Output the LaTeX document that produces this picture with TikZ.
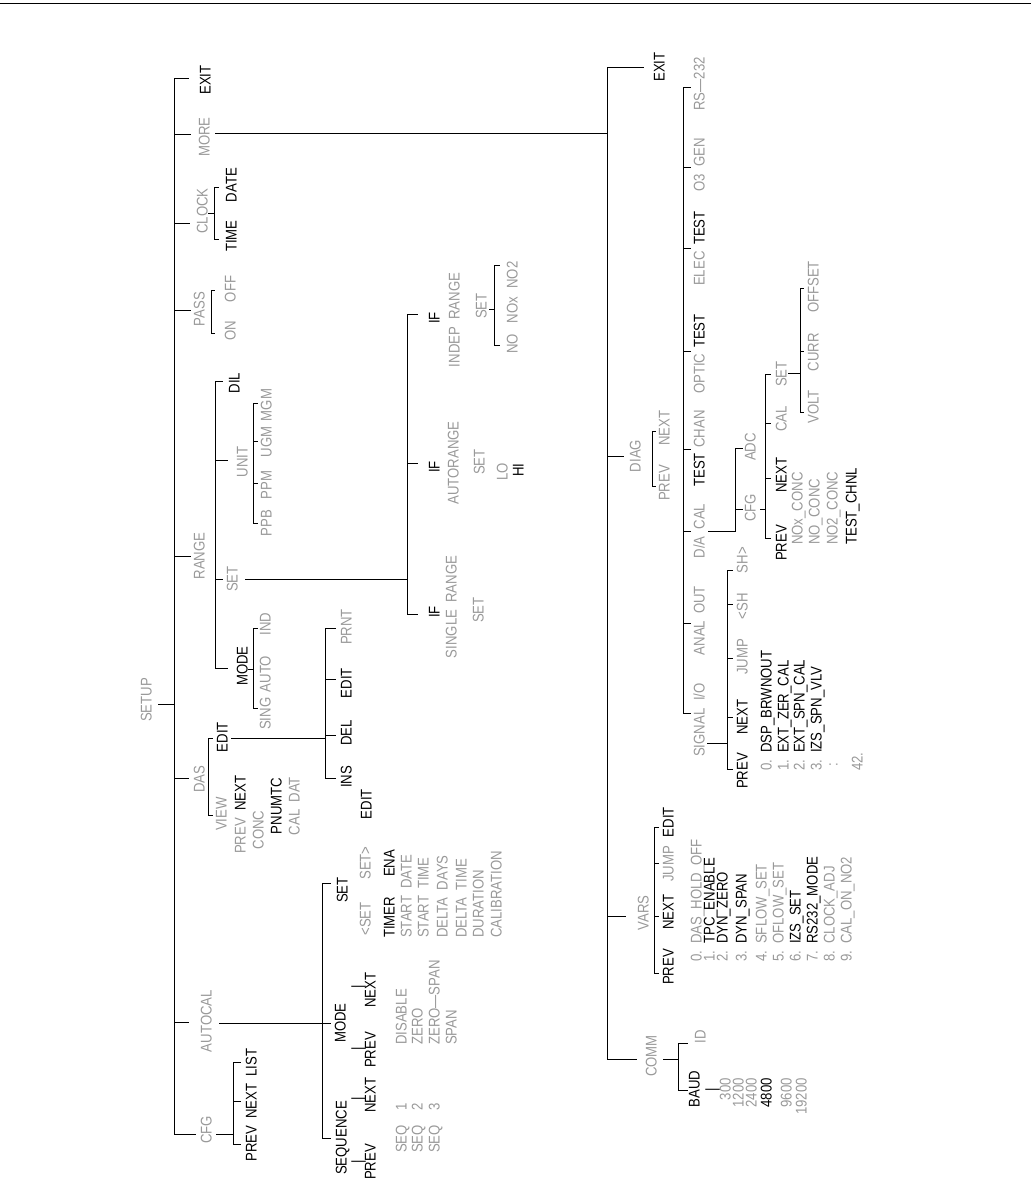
\documentclass[tikz,border=0pt]{standalone}
\usepackage{fontspec}
\setmainfont{Liberation Sans}[FakeStretch=0.85]
\definecolor{gr}{gray}{0.6}
\newcommand\lblfont{\fontsize{15.5}{15.5}\selectfont\spaceskip=7pt\relax}
\begin{document}
\begin{tikzpicture}[x=1pt,y=-1pt,
  lbl/.style={rotate=90,inner sep=0pt,font=\lblfont,text height=11pt,text depth=0pt},
  lb/.style={lbl,text=black},
  lg/.style={lbl,text=gr},
  ln/.style={line width=1pt,line cap=rect}]
\useasboundingbox (0,0) rectangle (1031,1200);
\draw[line width=0.8pt] (0,3) coordinate (hl) -- (1031,3) coordinate (hr);

% ================= SETUP tree =================
\node[lg] (setup) at (146,700) {SETUP};
\coordinate (stT) at (174,78); \coordinate (stB) at (174,1134);
\draw[ln] (158,704) -- (174,704);
\draw[ln] (stT) -- (stB);
\draw[ln] (stT) -- ++(14,0);
\draw[ln] (174,134) -- ++(16,0);
\draw[ln] (174,223) -- ++(15,0);
\draw[ln] (174,310) -- ++(16,0);
\draw[ln] (174,556) -- ++(16,0);
\draw[ln] (174,778) -- ++(14,0);
\draw[ln] (174,1022) -- ++(14,0);
\draw[ln] (stB) -- ++(21,0);

\node[lb] (exit1) at (205,80) {EXIT};
\node[lg] (more) at (204,137) {MORE};
\node[lg] (clock) at (202,211) {CLOCK};
\node[lb] (time) at (231,236) {TIME};
\node[lb] (date) at (231,185) {DATE};
\node[lg] (pass) at (199,309) {PASS};
\node[lg] (on) at (230,331) {ON};
\node[lg] (off) at (230,289) {OFF};
\node[lg] (range) at (199,556) {RANGE};
\node[lb] (dil) at (234,383) {DIL};
\node[lg] (unit) at (242,462) {UNIT};
\node[lg] (ppb) at (266,523) {PPB};
\node[lg] (ppm) at (266,485) {PPM};
\node[lg] (ugm) at (266,442) {UGM};
\node[lg] (mgm) at (266,405) {MGM};
\node[lg] (rset) at (232,579) {SET};
\node[lb] (rmode) at (242,666) {MODE};
\node[lg,anchor=west] (sing) at (265,730) {SING};
\node[lg] (auto) at (265,674) {AUTO};
\node[lg] (ind) at (265,624) {IND};

% MORE -> DIAG trunk
\coordinate (dgT) at (607,67); \coordinate (dgB) at (607,1059);
\coordinate (moreR) at (607,133);
\draw[ln] (215,133) -- (moreR);

% CLOCK bracket
\draw[ln] (208,213) -- (214,213);
\draw[ln] (218,187) -- (214,187) -- (214,239) -- (218,239);
% PASS bracket
\draw[ln] (214,290) -- (211,290) -- (211,333) -- (214,333);
% RANGE bracket
\draw[ln] (222,381) -- (215,381) -- (215,668) -- (227,668);
\draw[ln] (215,460) -- (227,460);
\draw[ln] (215,579) -- (222,579);
% UNIT bracket
\draw[ln] (257,403) -- (253,403) -- (253,523) -- (257,523);
\draw[ln] (253,441) -- (257,441);
\draw[ln] (253,483) -- (257,483);
% MODE bracket
\draw[ln] (257,628) -- (253,628) -- (253,708) -- (257,708);
\draw[ln] (248,669) -- (253,669);
% SET -> IF
\coordinate (ifJ) at (407,579);
\draw[ln] (245,579) -- (ifJ);
\draw[ln] (417,314) -- (407,314) -- (407,614) -- (417,614);
\draw[ln] (407,463) -- (417,463);

\node[lb] (if1) at (434,318) {IF};
\node[lb] (if2) at (434,467) {IF};
\node[lb] (if3) at (434,612) {IF};
\node[lg] (indep) at (454,320) {INDEP RANGE};
\node[lg] (iset) at (481,306) {SET};
\node[lg] (no) at (512,344) {NO};
\node[lg] (nox) at (512,310) {NOx};
\node[lg] (no2) at (512,275) {NO2};
\draw[ln] (499,265) -- (494,265) -- (494,345) -- (499,345);
\draw[ln] (489,309) -- (494,309);
\node[lg] (autor) at (453,463) {AUTORANGE};
\node[lg] (aset) at (479,462) {SET};
\node[lg] (lo) at (502,472) {LO};
\node[lb] (hi) at (518,470) {HI};
\node[lg] (single) at (451,607) {SINGLE RANGE};
\node[lg] (sset) at (478,610) {SET};

% DAS
\node[lg] (das) at (199,779) {DAS};
\node[lg] (view) at (221,814) {VIEW};
\node[lb] (dedit) at (222,737) {EDIT};
\draw[ln] (212,738) -- (208,738) -- (208,815) -- (212,815);
\node[lg] (dprev) at (240,836) {PREV};
\node[lb] (dnext) at (240,793) {NEXT};
\node[lg] (conc) at (258,830) {CONC};
\node[lb] (pnumtc) at (276,806) {PNUMTC};
\node[lg] (caldat) at (294,806) {CAL DAT};
\draw[ln] (231,738) -- (325,738);
\draw[ln] (335,628) -- (325,628) -- (325,778) -- (335,778);
\draw[ln] (325,679) -- (335,679);
\draw[ln] (325,735) -- (335,735);
\node[lb] (ins) at (346,777) {INS};
\node[lb] (del) at (346,733) {DEL};
\node[lb] (edit2) at (346,683) {EDIT};
\node[lg] (prnt) at (346,627) {PRNT};
\node[lb] (edit3) at (366,804) {EDIT};

% CFG / AUTOCAL
\node[lg] (cfg) at (206,1130) {CFG};
\node[lg] (autocal) at (206,1021) {AUTOCAL};
\node[lb] (pnl) at (251,1105) {PREV NEXT LIST};
\draw[ln] (216,1134) -- (233,1134);
\draw[ln] (240,1062) -- (233,1062) -- (233,1144) -- (240,1144);
\draw[ln] (233,1101) -- (240,1101);
\draw[ln] (219,1023) -- (330,1023);
\draw[ln] (330,883) -- (322,883) -- (322,1138) -- (330,1138);
\node[lb] (seq) at (341,1138) {SEQUENCE};
\node[lb] (amode) at (340,1023) {MODE};
\node[lb] (aset2) at (342,890) {SET};
\node[lb] (bar1) at (357,1162) {|};
\node[lb] (bar2) at (357,1099) {|};
\node[lb] (bar3) at (357,1049) {|};
\node[lb] (bar4) at (357,987) {|};
\node[lb] (sprev) at (370,1162) {PREV};
\node[lb] (snext) at (370,1095) {NEXT};
\node[lb] (mprev) at (370,1050) {PREV};
\node[lb] (mnext) at (370,990) {NEXT};
\node[lg] (lset) at (365,919) {<SET};
\node[lg] (rset2) at (365,863) {SET>};
\node[lb,anchor=west] (t1) at (389,938) {TIMER\hspace{20pt}ENA};
\node[lg,anchor=west] (t2) at (406,938) {START DATE};
\node[lg,anchor=west] (t3) at (423,938) {START TIME};
\node[lg,anchor=west] (t4) at (442,938) {DELTA DAYS};
\node[lg,anchor=west] (t5) at (461,938) {DELTA TIME};
\node[lg,anchor=west] (t6) at (478,938) {DURATION};
\node[lg,anchor=west] (t7) at (496,938) {CALIBRATION};
\node[lg,anchor=west] (m1) at (401,1045) {DISABLE};
\node[lg,anchor=west] (m2) at (417,1045) {ZERO};
\node[lg,anchor=west] (m3) at (434,1045) {ZERO---SPAN};
\node[lg,anchor=west] (m4) at (451,1045) {SPAN};
\node[lg,anchor=west] (q1) at (401,1153) {SEQ\ \ 1};
\node[lg,anchor=west] (q2) at (417,1153) {SEQ\ \ 2};
\node[lg,anchor=west] (q3) at (434,1153) {SEQ\ \ 3};

% ================= DIAG side =================
\draw[ln] (dgT) -- (dgB);
\draw[ln] (dgT) -- ++(36,0);
\draw[ln] (607,456) -- ++(16,0);
\draw[ln] (607,916) -- ++(18,0);
\draw[ln] (dgB) -- ++(29,0);
\node[lb] (exit2) at (659,67) {EXIT};
\node[lg] (diag) at (635,456) {DIAG};
\node[lg] (gprev) at (664,483) {PREV};
\node[lg] (gnext) at (664,428) {NEXT};
\draw[ln] (655,431) -- (652,431) -- (652,486) -- (655,486);

\draw[ln] (690,87) -- (683,87) -- (683,713) -- (690,713);
\foreach \yy in {167,248,351,449,531,623} \draw[ln] (683,\yy) -- (690,\yy);
\node[lg] (rs) at (699,84) {RS---232};
\node[lg] (o3) at (699,165) {O3 GEN};
\node[lg,anchor=west] (elec) at (699,286) {ELEC};
\node[lb,anchor=east] (etest) at (699,211) {TEST};
\node[lg,anchor=west] (optic) at (699,394) {OPTIC};
\node[lb,anchor=east] (otest) at (699,314) {TEST};
\node[lb,anchor=west] (ttest) at (699,487) {TEST};
\node[lg,anchor=east] (chan) at (699,410) {CHAN};
\node[lg] (dacal) at (699,531) {D/A CAL};
\node[lg] (anal) at (699,638) {ANAL};
\node[lg] (out) at (699,600) {OUT};
\node[lg,anchor=west] (signal) at (699,757) {SIGNAL};
\node[lg,anchor=east] (io) at (699,683) {I/O};

\draw[ln] (708,531) -- (735,531) -- (735,448) -- (742,448);
\draw[ln] (735,509) -- (742,509);
\node[lg] (dcfg) at (750,508) {CFG};
\node[lg] (adc) at (750,447) {ADC};
\draw[ln] (760,509) -- (765,509);
\draw[ln] (770,374) -- (765,374) -- (765,538) -- (770,538);
\draw[ln] (765,423) -- (770,423);
\draw[ln] (765,478) -- (770,478);
\node[lb] (cprev) at (781,543) {PREV};
\node[lb] (cnext) at (781,475) {NEXT};
\node[lg] (ccal) at (781,419) {CAL};
\node[lg] (cset) at (781,374) {SET};
\draw[ln] (788,373) -- (800,373);
\draw[ln] (803,288) -- (800,288) -- (800,412) -- (803,412);
\draw[ln] (800,351) -- (803,351);
\node[lg] (volt) at (813,407) {VOLT};
\node[lg] (curr) at (813,352) {CURR};
\node[lg] (offset) at (813,287) {OFFSET};
\node[lg,anchor=west] (c1) at (797,545) {NOx\_CONC};
\node[lg,anchor=west] (c2) at (814,545) {NO\_CONC};
\node[lg,anchor=west] (c3) at (832,545) {NO2\_CONC};
\node[lb,anchor=west] (c4) at (851,545) {TEST\_CHNL};

\draw[ln] (707,743) -- (727,743);
\draw[ln] (732,570) -- (727,570) -- (727,769) -- (732,769);
\foreach \yy in {604,658,717} \draw[ln] (727,\yy) -- (732,\yy);
\node[lb] (iprev) at (742,771) {PREV};
\node[lb] (inext) at (742,717) {NEXT};
\node[lg] (ijump) at (742,657) {JUMP};
\node[lg] (ish1) at (742,606) {<SH};
\node[lg] (ish2) at (742,560) {SH>};
\node[lbl,anchor=west] (s0) at (766,771) {\textcolor{gr}{0.}\ DSP\_BRWNOUT};
\node[lbl,anchor=west] (s1) at (783,771) {\textcolor{gr}{1.}\ EXT\_ZER\_CAL};
\node[lbl,anchor=west] (s2) at (799,771) {\textcolor{gr}{2.}\ EXT\_SPN\_CAL};
\node[lbl,anchor=west] (s3) at (816,771) {\textcolor{gr}{3.}\ IZS\_SPN\_VLV};
\node[lg] (sdots) at (832,765) {:};
\node[lg,anchor=west] (s42) at (857,771) {42.};

% VARS
\node[lg] (vars) at (643,913) {VARS};
\draw[ln] (658,827) -- (654,827) -- (654,973) -- (658,973);
\draw[ln] (654,863) -- (658,863);
\draw[ln] (654,916) -- (658,916);
\node[lb] (vprev) at (668,967) {PREV};
\node[lb] (vnext) at (668,912) {NEXT};
\node[lg] (vjump) at (668,864) {JUMP};
\node[lb] (vedit) at (668,822) {EDIT};
\node[lbl,anchor=west] (v0) at (696,962) {\textcolor{gr}{0.\ DAS\_HOLD\_OFF}};
\node[lbl,anchor=west] (v1) at (709,962) {\textcolor{gr}{1.}\ TPC\_ENABLE};
\node[lbl,anchor=west] (v2) at (722,962) {\textcolor{gr}{2.}\ DYN\_ZERO};
\node[lbl,anchor=west] (v3) at (741,962) {\textcolor{gr}{3.}\ DYN\_SPAN};
\node[lbl,anchor=west] (v4) at (761,962) {\textcolor{gr}{4.\ SFLOW\_SET}};
\node[lbl,anchor=west] (v5) at (778,962) {\textcolor{gr}{5.\ OFLOW\_SET}};
\node[lbl,anchor=west] (v6) at (795,962) {\textcolor{gr}{6.}\ IZS\_SET};
\node[lbl,anchor=west] (v7) at (812,962) {\textcolor{gr}{7.}\ RS232\_MODE};
\node[lbl,anchor=west] (v8) at (829,962) {\textcolor{gr}{8.\ CLOCK\_ADJ}};
\node[lbl,anchor=west] (v9) at (846,962) {\textcolor{gr}{9.\ CAL\_ON\_NO2}};

% COMM
\node[lg] (comm) at (651,1056) {COMM};
\draw[ln] (663,1059) -- (678,1059);
\draw[ln] (687,1043) -- (678,1043) -- (678,1090) -- (687,1090);
\node[lg] (id) at (700,1037) {ID};
\node[lb] (baud) at (694,1089) {BAUD};
\node[lb] (bbar) at (711,1090) {|};
\node[lg,anchor=east] (b1) at (725,1078) {300};
\node[lg,anchor=east] (b2) at (738,1078) {1200};
\node[lg,anchor=east] (b3) at (751,1078) {2400};
\node[lb,anchor=east] (b4) at (766,1078) {4800};
\node[lg,anchor=east] (b5) at (786,1078) {9600};
\node[lg,anchor=east] (b6) at (801,1078) {19200};
\end{tikzpicture}
\end{document}
